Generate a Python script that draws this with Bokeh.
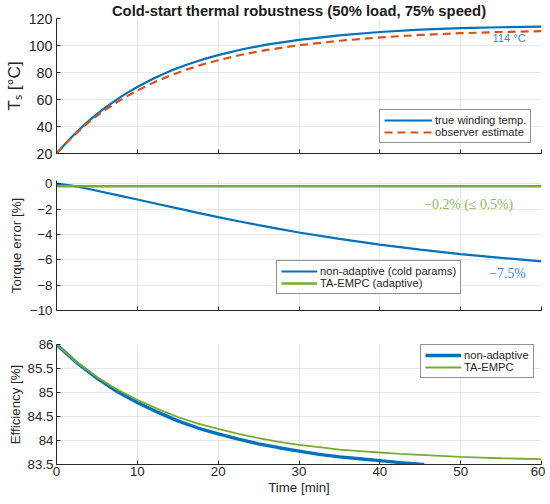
from bokeh.plotting import figure
from bokeh.layouts import column
from bokeh.models import Range1d, FixedTicker, Label
from bokeh.embed import file_html
from bokeh.resources import INLINE

# ---------------- data ----------------
title_text = "Cold-start thermal robustness (50% load, 75% speed)"

time_temp = [0, 1, 2, 3, 4, 5, 6, 7, 8, 9, 10, 12, 14, 16, 18, 20, 23, 26, 30, 35, 40, 45, 50, 55, 60]
temp_true = [20, 26.6, 32.9, 38.8, 44.2, 49.2, 53.8, 58.1, 62.1, 65.8, 69.3, 75.6, 81.0, 85.6, 89.5, 92.9,
             97.2, 100.6, 104.2, 107.5, 110.0, 111.7, 112.8, 113.5, 114.0]
temp_obs = [20, 26.4, 32.5, 38.1, 43.2, 47.9, 52.2, 56.2, 59.9, 63.4, 66.6, 72.5, 77.6, 82.0, 85.8, 89.1,
            93.3, 96.7, 100.2, 103.5, 106.0, 107.8, 109.1, 110.0, 110.6]

time_tq = [0, 2.5, 5, 7.5, 10, 12.5, 15, 17.5, 20, 22.5, 25, 27.5, 30, 35, 40, 45, 50, 55, 60]
err_nonadaptive = [0, -0.22, -0.56, -0.9, -1.25, -1.6, -1.95, -2.3, -2.64, -2.96, -3.27, -3.57, -3.85,
                   -4.35, -4.8, -5.2, -5.55, -5.85, -6.12]
time_tq_adaptive = [0, 60]
err_adaptive = [-0.2, -0.2]

time_eff_non = [0, 2.5, 5, 7.5, 10, 12.5, 15, 17.5, 20, 22.5, 25, 27.5, 30, 32.5, 35, 37.5, 40, 42.5, 45, 45.5]
eff_non = [86.0, 85.62, 85.30, 85.02, 84.79, 84.59, 84.41, 84.26, 84.14, 84.03, 83.93, 83.85, 83.78, 83.71,
           83.66, 83.62, 83.58, 83.54, 83.505, 83.5]
time_eff_ta = [0, 2.5, 5, 7.5, 10, 12.5, 15, 17.5, 20, 22.5, 25, 27.5, 30, 32.5, 35, 37.5, 40, 42.5, 45,
               47.5, 50, 52.5, 55, 57.5, 60]
eff_ta = [86.0, 85.63, 85.32, 85.06, 84.85, 84.66, 84.49, 84.35, 84.24, 84.14, 84.05, 83.97, 83.91, 83.86,
          83.81, 83.78, 83.75, 83.72, 83.70, 83.68, 83.66, 83.645, 83.63, 83.62, 83.61]

x_ticks = [0, 10, 20, 30, 40, 50, 60]
temp_ticks = [20, 40, 60, 80, 100, 120]
tq_ticks = [-10, -8, -6, -4, -2, 0]
eff_ticks = [83.5, 84, 84.5, 85, 85.5, 86]
eff_tick_labels = ["83.5", "84", "84.5", "85", "85.5", "86"]

label_true = "true winding temp."
label_obs = "observer estimate"
label_tq_non = "non-adaptive (cold params)"
label_tq_ta = "TA-EMPC (adaptive)"
label_eff_non = "non-adaptive"
label_eff_ta = "TA-EMPC"

# ---------------- styles ----------------
S = 1.02  # compensates the screenshot scale


def px(v):
    return int(round(v * S))


def fs(v):
    return f"{v * S:.1f}px"


BLUE = "#0072BD"
ORANGE = "#D95319"
GREEN = "#77AC30"
AX = "#262626"
FONT = "Liberation Sans"
SERIF = "Liberation Serif"
W = px(534)
LEFT = px(51)
RIGHT = px(4)


def style(p, yticks, xlabels=False):
    p.outline_line_color = None
    p.background_fill_color = "white"
    p.border_fill_color = "white"
    for ax in (p.xaxis[0], p.yaxis[0]):
        ax.axis_line_color = AX
        ax.axis_line_width = 1
        ax.major_tick_line_color = AX
        ax.major_tick_in = 4
        ax.major_tick_out = 0
        ax.minor_tick_line_color = None
        ax.major_label_text_font = FONT
        ax.major_label_text_color = AX
        ax.axis_label_text_font = FONT
        ax.axis_label_text_color = AX
        ax.axis_label_text_font_style = "normal"
    p.xaxis[0].ticker = FixedTicker(ticks=x_ticks)
    p.yaxis[0].ticker = FixedTicker(ticks=yticks)
    if not xlabels:
        p.xaxis[0].major_label_overrides = {t: "" for t in x_ticks}
        p.xaxis[0].major_label_standoff = 0
    p.xgrid.grid_line_color = "#e8e8e8"
    p.ygrid.grid_line_color = "#e8e8e8"
    p.xgrid.ticker = FixedTicker(ticks=x_ticks)
    p.ygrid.ticker = FixedTicker(ticks=yticks)


def style_legend(p, loc, glyph_w):
    lg = p.legend[0]
    lg.location = (px(loc[0]), px(loc[1]))
    lg.margin = 0
    lg.padding = px(4)
    lg.spacing = 0
    lg.glyph_width = px(glyph_w)
    lg.glyph_height = px(12)
    lg.label_height = px(12)
    lg.label_standoff = px(3)
    lg.label_text_font = FONT
    lg.label_text_font_size = fs(11)
    lg.label_text_color = AX
    lg.border_line_color = AX
    lg.border_line_width = 1
    lg.background_fill_alpha = 1


# ---------------- panel 1 ----------------
p1 = figure(width=W, height=px(162), output_backend="svg", toolbar_location=None,
            x_range=Range1d(0, 60), y_range=Range1d(20, 120),
            min_border_left=LEFT, min_border_right=RIGHT, min_border_top=px(17), min_border_bottom=px(12))
p1.title.text = title_text
p1.title.text_font = FONT
p1.title.text_font_size = fs(14.5)
p1.title.text_font_style = "bold"
p1.title.align = "center"
p1.title.standoff = 0
p1.title.offset = 0
p1.title.text_color = "#1a1a1a"
p1.line(time_temp, temp_true, line_color=BLUE, line_width=2.2, legend_label=label_true)
p1.line(time_temp, temp_obs, line_color=ORANGE, line_width=2.2, line_dash="8 5", legend_label=label_obs)
style(p1, temp_ticks)
p1.yaxis[0].axis_label = "Tₛ [°C]"
p1.yaxis[0].axis_label_text_font_size = fs(17)
p1.yaxis[0].major_label_text_font_size = fs(14)
p1.yaxis[0].major_label_standoff = 4
p1.yaxis[0].axis_label_standoff = 2
style_legend(p1, (317, 10), 47)
p1.add_layout(Label(x=56, y=105.8, text="114 °C", text_color="#4a86cf", text_font=FONT,
                    text_font_size=fs(11), text_align="center", text_baseline="middle"))

# ---------------- panel 2 ----------------
p2 = figure(width=W, height=px(166), output_backend="svg", toolbar_location=None,
            x_range=Range1d(0, 60), y_range=Range1d(-10, 0.25),
            min_border_left=LEFT, min_border_right=RIGHT, min_border_top=px(15), min_border_bottom=px(24))
p2.line(time_tq, err_nonadaptive, line_color=BLUE, line_width=2.2, legend_label=label_tq_non)
p2.line(time_tq_adaptive, err_adaptive, line_color=GREEN, line_width=2.6, legend_label=label_tq_ta)
style(p2, tq_ticks)
p2.yaxis[0].axis_label = "Torque error [%]"
p2.yaxis[0].axis_label_text_font_size = fs(13)
p2.yaxis[0].major_label_text_font_size = fs(13)
p2.yaxis[0].major_label_standoff = 4
p2.yaxis[0].axis_label_standoff = 3
style_legend(p2, (216, 16), 35)
p2.add_layout(Label(x=51.0, y=-1.68, text="\u22120.2% (\u2264 0.5%)", text_color="#8ab85a", text_font=SERIF,
                    text_font_size=fs(13.5), text_align="center", text_baseline="middle"))
p2.add_layout(Label(x=55.8, y=-7.05, text="\u22127.5%", text_color="#3b82cc", text_font=SERIF,
                    text_font_size=fs(13.5), text_align="center", text_baseline="middle"))

# ---------------- panel 3 ----------------
p3 = figure(width=W, height=px(160), output_backend="svg", toolbar_location=None,
            x_range=Range1d(0, 60), y_range=Range1d(83.5, 86),
            min_border_left=LEFT, min_border_right=RIGHT, min_border_top=px(10), min_border_bottom=px(30))
p3.line(time_eff_non, eff_non, line_color=BLUE, line_width=3.4, legend_label=label_eff_non)
p3.line(time_eff_ta, eff_ta, line_color=GREEN, line_width=1.8, legend_label=label_eff_ta)
style(p3, eff_ticks, xlabels=True)
p3.yaxis[0].major_label_overrides = {t: s for t, s in zip(eff_ticks, eff_tick_labels)}
p3.yaxis[0].axis_label = "Efficiency [%]"
p3.yaxis[0].axis_label_text_font_size = fs(13)
p3.yaxis[0].major_label_text_font_size = fs(13)
p3.yaxis[0].major_label_standoff = 3
p3.yaxis[0].axis_label_standoff = 2
p3.xaxis[0].axis_label = "Time [min]"
p3.xaxis[0].axis_label_text_font_size = fs(13)
p3.xaxis[0].major_label_text_font_size = fs(13)
p3.xaxis[0].major_label_standoff = 2
p3.xaxis[0].axis_label_standoff = 1
style_legend(p3, (357, 84), 35)

layout = column(p1, p2, p3, spacing=0)
open("out.html", "w").write(file_html(layout, INLINE))
